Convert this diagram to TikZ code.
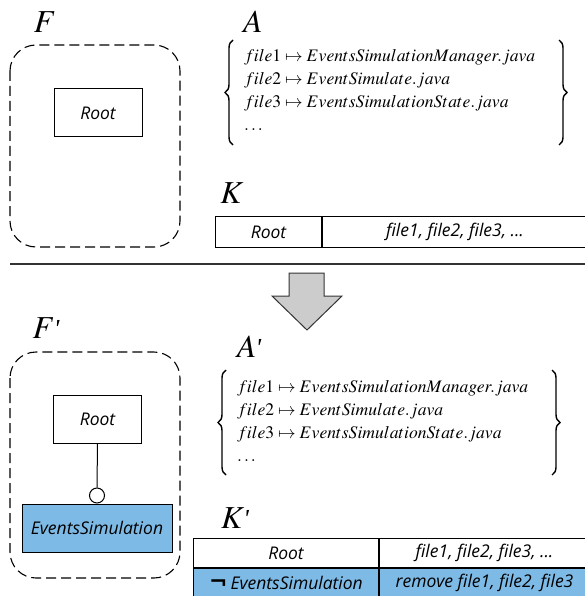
\documentclass[tikz,border=0pt]{standalone}
\usepackage{mathptmx}
\usepackage{fontspec}
\setmainfont{Liberation Serif}
\setsansfont{Open Sans}
\newfontfamily\notfont{DejaVu Sans}
\usetikzlibrary{positioning, decorations.pathreplacing}

\definecolor{featblue}{RGB}{126,186,230}
\newcommand{\bigsym}[1]{\fontsize{32}{36}\selectfont$#1$}
\newcommand{\bigprimed}[1]{\fontsize{32}{36}\selectfont$#1$\kern-1pt\raisebox{1pt}{\itshape\fontsize{26}{30}\selectfont\textquotesingle}}

\tikzset{
  feature/.style={draw, line width=1pt, inner sep=0pt, minimum height=48pt,
    font=\sffamily\itshape\fontsize{17.5}{20}\selectfont},
  cell/.style={draw, line width=1pt, inner sep=0pt, anchor=north west,
    font=\sffamily\itshape\fontsize{17.5}{20}\selectfont},
  modelbox/.style={draw, line width=1.1pt, dash pattern=on 10pt off 5pt, rounded corners=26pt},
  mapline/.style={anchor=base west, inner sep=0pt, font=\fontsize{17.6}{23}\selectfont},
  optional/.style={circle, draw, line width=1pt, fill=white, inner sep=0pt, minimum size=15pt},
  setbrace/.style={decorate, line width=1.4pt, decoration={brace, amplitude=8pt, aspect=0.5}},
}

\begin{document}
\begin{tikzpicture}[x=1pt, y=-1pt]
    \useasboundingbox (0,0) rectangle (584,596);

    % Feature model F
    \node (flabel) at (45,22) {\bigsym{F}};
    \draw[modelbox] (10,45) rectangle (180,247);
    \node[feature, minimum width=88pt] (froot) at (98,113) {Root};

    % Asset mapping A
    \node (alabel) at (253,22) {\bigsym{A}};
    \coordinate (abrtop) at (233,40);
    \coordinate (abrbot) at (233,145);
    \draw[setbrace] (abrbot) -- (abrtop);
    \draw[setbrace] (abrtop -| 559,0) -- (abrbot -| 559,0);
    \foreach \i/\y/\txt in {1/62/{file1 \mapsto EventsSimulationManager.java},
                            2/85/{file2 \mapsto EventSimulate.java},
                            3/108/{file3 \mapsto EventsSimulationState.java},
                            4/131/{\dots}} {
        \node[mapline] (amap\i) at (244,\y) {$\txt$};
    }

    % Configuration knowledge K
    \node (klabel) at (232,193) {\bigsym{K}};
    \node[cell, minimum width=106pt, minimum height=31pt] (kroot) at (215,216) {Root};
    \node[cell, minimum width=265pt, minimum height=31pt] (kfiles) at (kroot.north east) {file1, file2, file3, ...};

    % Separator and evolution arrow
    \draw[line width=1.6pt, black!80] (10,264) -- (600,264);
    \draw[line width=1pt, black!80, fill=black!20]
        (289,273) -- (324,273) -- (324,296) -- (342,296) -- (307,330)
        -- (272,296) -- (289,296) -- cycle;

    % Evolved feature model F'
    \node (fplabel) at (46,328) {\bigprimed{F}};
    \draw[modelbox] (10,352) rectangle (180,578);
    \node[feature, minimum width=88pt] (fproot) at (97.5,419) {Root};
    \node[feature, minimum width=150pt, fill=featblue] (fpes) at (97,528) {EventsSimulation};
    \node[optional, anchor=south] (fpopt) at (fpes.north) {};
    \draw[line width=1pt] (fproot.south) -- (fpopt.north);

    % Evolved asset mapping A'
    \node (aplabel) at (249,347) {\bigprimed{A}};
    \coordinate (apbrtop) at (226,370);
    \coordinate (apbrbot) at (226,475);
    \draw[setbrace] (apbrbot) -- (apbrtop);
    \draw[setbrace] (apbrtop -| 552,0) -- (apbrbot -| 552,0);
    \foreach \i/\y/\txt in {1/392/{file1 \mapsto EventsSimulationManager.java},
                            2/415/{file2 \mapsto EventSimulate.java},
                            3/438/{file3 \mapsto EventsSimulationState.java},
                            4/461/{\dots}} {
        \node[mapline] (apmap\i) at (237,\y) {$\txt$};
    }

    % Evolved configuration knowledge K'
    \node (kplabel) at (235,518) {\bigprimed{K}};
    \node[cell, minimum width=185pt, minimum height=29pt] (kproot) at (193,538) {Root};
    \node[cell, minimum width=210pt, minimum height=29pt] (kpfiles) at (kproot.north east) {file1, file2, file3, ...};
    \node[cell, minimum width=185pt, minimum height=28pt, fill=featblue] (kpes) at (kproot.south west)
        {{\upshape\notfont\bfseries\fontsize{22}{22}\selectfont ¬}\,EventsSimulation};
    \node[cell, minimum width=210pt, minimum height=28pt, fill=featblue] (kpremove) at (kpes.north east)
        {remove file1, file2, file3};
\end{tikzpicture}
\end{document}
